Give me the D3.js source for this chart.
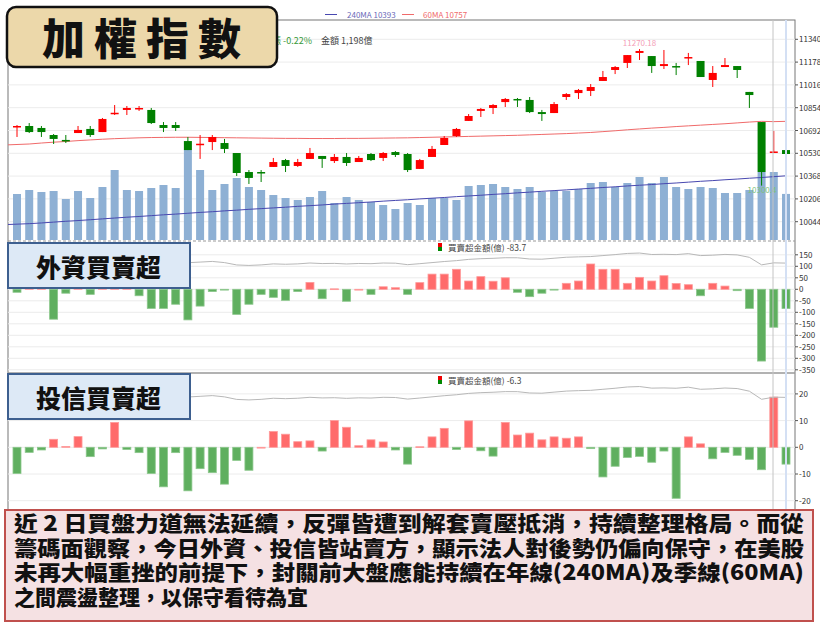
<!DOCTYPE html>
<html>
<head>
<meta charset="utf-8">
<script src="https://cdn.jsdelivr.net/npm/d3@7"></script>
<style>
  body { margin: 0; background: #fff; }
  svg { display: block; font-family: "Noto Sans CJK TC", "Noto Sans", sans-serif; }
</style>
</head>
<body>
<div id="chart"></div>
<script>
// OHLC of the index (one candle per trading day)
var opens  = [10717,10724,10710,10660,10625,10674,10703,10681,10816,10838,10845,10838,10731,10731,10617,10596,10610,10603,10532,10397,10397,10433,10482,10440,10490,10511,10475,10504,10468,10525,10497,10539,
              10525,10419,10504,10589,10653,10760,10831,10852,10894,10916,10909,10823,10816,10930,10958,10973,11044,11122,11172,11243,11221,11150,11150,11207,11186,11051,11143,11150,10966,10752,10539,10553];
var closes = [10724,10681,10681,10632,10622,10696,10660,10774,10818,10852,10852,10745,10710,10710,10553,10598,10646,10561,10390,10355,10394,10468,10440,10468,10532,10490,10504,10461,10497,10482,10532,10518,
              10411,10482,10561,10639,10703,10795,10845,10873,10916,10912,10823,10809,10880,10951,10980,11001,11072,11143,11228,11257,11150,11164,11143,11214,11072,11101,11157,11122,10944,10397,10543,10525];
var highs  = [10731,10745,10724,10667,10660,10724,10724,10781,10873,10866,10866,10852,10752,10752,10646,10660,10660,10632,10532,10411,10411,10497,10490,10490,10568,10511,10525,10532,10511,10532,10539,10546,
              10532,10490,10582,10653,10710,10809,10852,10880,10923,10923,10930,10838,10894,10958,10987,11022,11115,11150,11228,11270.18,11221,11264,11172,11243,11186,11150,11207,11150,10966,10752,10689,10603];
var lows   = [10646,10674,10646,10596,10603,10674,10646,10681,10802,10802,10831,10738,10681,10689,10553,10490,10553,10532,10369,10312,10326,10433,10397,10433,10490,10426,10461,10440,10468,10475,10475,10504,
              10397,10419,10504,10589,10646,10760,10788,10809,10859,10859,10816,10760,10816,10909,10916,10937,11044,11093,11136,11193,11101,11129,11086,11157,11072,11001,11143,11065,10852,10300.4,10532,10504];
// 成交金額 (億)
var volumes = [1196,1300,1248,1274,1066,1274,1092,1378,1820,1300,1274,1352,1430,1352,2340,1820,1300,1456,1612,1378,1300,1170,1092,1040,1118,1274,962,1118,1040,988,910,806,
               962,910,1092,1092,1040,1404,1430,1456,1378,1326,1378,1248,1274,1274,1326,1482,1508,1378,1482,1638,1482,1638,1378,1326,1378,1352,1222,1222,1300,1768,1768,1198];
var ma60  = [10590,10596,10603,10609,10614,10620,10625,10630,10634,10637,10640,10642,10643,10644,10644,10643,10642,10641,10640,10639,10638,10637,10636,10636,10635,10635,10635,10636,10636,10637,10638,10639,
             10640,10642,10644,10646,10648,10650,10652,10654,10656,10658,10661,10664,10667,10670,10674,10678,10684,10690,10697,10703,10709,10714,10720,10725,10730,10735,10740,10746,10752,10757,10755,10757];
var ma240 = [10024,10030,10035,10041,10047,10052,10058,10064,10070,10076,10081,10087,10093,10098,10104,10110,10115,10121,10126,10132,10137,10142,10147,10153,10158,10163,10169,10174,10179,10184,10190,10195,
             10200,10206,10211,10216,10222,10227,10232,10238,10243,10249,10254,10260,10265,10270,10276,10281,10287,10292,10298,10303,10308,10314,10319,10325,10331,10336,10342,10347,10353,10358,10364,10370];
// 外資買賣超 (億)
var foreign = [-13,10,20,-130,-17,15,-22,30,20,25,-28,-83,-83,-65,-133,-73,-10,-3,-109,-65,-22,-35,-48,-10,30,-41,2,-52,0,-22,11,7,
               -22,29,66,66,87,36,55,35,50,-13,-32,-17,-3,26,36,110,87,87,26,52,36,59,25,20,-28,26,14,-6,-83,-312,-165,-83.7];
// 投信買賣超 (億)
var trust = [-9.8,-1.9,-1,3,0.3,4,-3.5,-0.6,9.3,-0.8,-2,-9.8,-14.8,-2,-16.3,-8,-9.5,-13.8,-4.9,-8.6,0,5.9,4.9,2.1,2.4,-1.4,10,7.5,0.6,2.8,2,-1,
             -6.3,0.2,3.9,7.1,-0.8,9.9,-1.3,-3.3,9.3,4.6,5.3,2.8,3.9,3.4,3.9,-0.5,-11.1,-7.1,-3.8,-3.4,-5.6,-1.4,-19.1,3.9,1.3,-4.3,-1.9,-3,-4.5,-8.4,18.8,-6.3];

var priceTicks = [11340,11178,11016,10854,10692,10530,10368,10206,10044];
var foreignTicks = [150,100,50,0,-50,-100,-150,-200,-250,-300,-350];
var trustTicks = [20,10,0,-10,-20];
var noteLines = [
  "近 2 日買盤力道無法延續，反彈皆遭到解套賣壓抵消，持續整理格局。而從",
  "籌碼面觀察，今日外資、投信皆站賣方，顯示法人對後勢仍偏向保守，在美股",
  "未再大幅重挫的前提下，封關前大盤應能持續在年線(240MA)及季線(60MA)",
  "之間震盪整理，以保守看待為宜"
];

var width = 820, height = 635,
    left = 8, right = 795,
    idx = d3.range(closes.length);

var svg = d3.select("#chart").append("svg")
    .attr("width", width).attr("height", height);

var x = d3.scalePoint().domain(idx).range([17, 786]);
var yP = d3.scaleLinear().domain([10044, 11340]).range([221.7, 39.3]);
var yV = d3.scaleLinear().domain([0, 2600]).range([240, 140]);
var yF = d3.scaleLinear().domain([0, -350]).range([289.3, 369.8]);
var yT = d3.scaleLinear().domain([0, -20]).range([447.3, 500.7]);
// grey price trace drawn inside the lower panels
var yG1 = d3.scaleLinear().domain([10350, 11260]).range([265.5, 253]);
var yG2 = d3.scaleLinear().domain([10350, 11260]).range([400, 386.5]);

var bw = 8;

// frame
svg.append("rect").attr("x", left).attr("y", 20).attr("width", right - left).attr("height", 490)
    .attr("fill", "none").attr("stroke", "#777").attr("stroke-width", 1);

function grid(ticks, scale) {
  var g = svg.append("g");
  g.selectAll("line.g").data(ticks).enter().append("line")
      .attr("x1", left).attr("x2", right)
      .attr("y1", function(d) { return scale(d); }).attr("y2", function(d) { return scale(d); })
      .attr("stroke", "#ececec");
  g.selectAll("line.t").data(ticks).enter().append("line")
      .attr("x1", right).attr("x2", right + 3)
      .attr("y1", function(d) { return scale(d); }).attr("y2", function(d) { return scale(d); })
      .attr("stroke", "#555");
  g.selectAll("text").data(ticks).enter().append("text")
      .attr("x", right + 4).attr("y", function(d) { return scale(d) + 3; })
      .attr("font-size", 8).attr("fill", "#333")
      .text(function(d) { return d; });
}
grid(priceTicks, yP);
grid(foreignTicks, yF);
grid(trustTicks, yT);

// panel separators
svg.append("line").attr("x1", left).attr("x2", right).attr("y1", 241).attr("y2", 241)
    .attr("stroke", "#999").attr("stroke-dasharray", "3,2");
svg.append("line").attr("x1", left).attr("x2", right).attr("y1", 373).attr("y2", 373)
    .attr("stroke", "#999").attr("stroke-width", 1.5);

// volume bars
svg.append("g").selectAll("rect").data(volumes).enter().append("rect")
    .attr("x", function(d, i) { return x(i) - bw / 2; })
    .attr("y", function(d) { return yV(d); })
    .attr("width", bw).attr("height", function(d) { return yV(0) - yV(d); })
    .attr("fill", "#8eb0d4");

// moving averages
var line = function(arr, sc) {
  return d3.line().x(function(d, i) { return x(i); }).y(function(d) { return sc(d); })(arr);
};
var maLine = d3.line().x(function(d, i) { return i === 0 ? left : x(i); }).y(function(d) { return yP(d); });
svg.append("path").attr("d", maLine(ma240))
    .attr("fill", "none").attr("stroke", "#4848b0").attr("stroke-width", 1);
svg.append("path").attr("d", maLine(ma60))
    .attr("fill", "none").attr("stroke", "#f06a6a").attr("stroke-width", 1);

// candles
var candles = svg.append("g").selectAll("g").data(idx).enter().append("g");
var col = function(i) { return closes[i] >= opens[i] ? "#ff0000" : "#008000"; };
candles.append("line")
    .attr("x1", function(i) { return x(i); }).attr("x2", function(i) { return x(i); })
    .attr("y1", function(i) { return yP(highs[i]); }).attr("y2", function(i) { return yP(lows[i]); })
    .attr("stroke", function(i) { return col(i); });
candles.append("rect")
    .attr("x", function(i) { return x(i) - bw / 2; })
    .attr("y", function(i) { return yP(Math.max(opens[i], closes[i])); })
    .attr("width", bw)
    .attr("height", function(i) { return Math.max(1.5, Math.abs(yP(opens[i]) - yP(closes[i]))); })
    .attr("fill", function(i) { return col(i); });

// high / low marks
var hi = d3.maxIndex(highs), lo = d3.minIndex(lows);
svg.append("text").attr("x", x(hi)).attr("y", yP(highs[hi]) - 3).attr("text-anchor", "middle")
    .attr("font-size", 8).attr("fill", "#f4a0b8").text(highs[hi].toFixed(2));
svg.append("text").attr("x", x(lo) - 14).attr("y", yP(lows[lo]) + 7)
    .attr("font-size", 8).attr("fill", "#7cc07c").text(lows[lo]);

// institutional bars
function netBars(data, sc) {
  svg.append("g").selectAll("rect").data(data).enter().append("rect")
      .attr("x", function(d, i) { return x(i) - bw / 2; })
      .attr("y", function(d) { return sc(Math.max(0, d)); })
      .attr("width", bw)
      .attr("height", function(d) { return Math.max(0.8, Math.abs(sc(d) - sc(0))); })
      .attr("fill", function(d) { return d >= 0 ? "#ff6b6b" : "#5faf5f"; })
      .attr("stroke", function(d) { return d >= 0 ? "#ff9a9a" : "#8cc78c"; })
      .attr("stroke-width", 0.8);
}
netBars(foreign, yF);
netBars(trust, yT);

svg.append("path").attr("d", line(closes, yG1)).attr("fill", "none").attr("stroke", "#b8b8b8");
svg.append("path").attr("d", line(closes, yG2)).attr("fill", "none").attr("stroke", "#b8b8b8");

// cursor lines
svg.append("line").attr("x1", 773).attr("x2", 773).attr("y1", 20).attr("y2", 510).attr("stroke", "#c4c4c4");
svg.append("line").attr("x1", x(63)).attr("x2", x(63)).attr("y1", 20).attr("y2", 510)
    .attr("stroke", "#d4e0f4").attr("stroke-width", 2);

// panel headers
function panelHeader(y0, val) {
  svg.append("rect").attr("x", 438).attr("y", y0 - 8).attr("width", 4).attr("height", 4).attr("fill", "#e00");
  svg.append("rect").attr("x", 438).attr("y", y0 - 4).attr("width", 4).attr("height", 4).attr("fill", "#080");
  svg.append("text").attr("x", 448).attr("y", y0).attr("font-size", 8.5).attr("fill", "#444")
      .text("買賣超金額(億) " + val);
}
panelHeader(251, foreign[foreign.length - 1]);
panelHeader(384, trust[trust.length - 1]);

// legend
svg.append("line").attr("x1", 325).attr("x2", 337).attr("y1", 14.5).attr("y2", 14.5).attr("stroke", "#4848b0");
svg.append("text").attr("x", 347).attr("y", 17.5).attr("font-size", 8).attr("fill", "#6a6ab8")
    .text("240MA " + Math.round(ma240[ma240.length - 1] + 23));
svg.append("line").attr("x1", 402).attr("x2", 414).attr("y1", 14.5).attr("y2", 14.5).attr("stroke", "#f06a6a");
svg.append("text").attr("x", 423).attr("y", 17.5).attr("font-size", 8).attr("fill", "#f06a6a")
    .text("60MA " + ma60[ma60.length - 1]);
svg.append("text").attr("x", 272).attr("y", 44).attr("font-size", 9).attr("fill", "#3a9a3a").text("漲 -0.22%");
svg.append("text").attr("x", 321).attr("y", 44).attr("font-size", 9).attr("fill", "#444").text("金額 1,198億");

// title box
svg.append("rect").attr("x", 7).attr("y", 7).attr("width", 270).attr("height", 60).attr("rx", 9)
    .attr("fill", "#ecd8aa").attr("stroke", "#111").attr("stroke-width", 2.5);
svg.append("text").attr("x", 42).attr("y", 55).attr("font-size", 43).attr("font-weight", 900)
    .attr("letter-spacing", 9).attr("fill", "#111").text("加權指數");

function tagBox(y0, label) {
  svg.append("rect").attr("x", 8).attr("y", y0).attr("width", 182).attr("height", 45)
      .attr("fill", "#dde9f6").attr("stroke", "#3d5f8f").attr("stroke-width", 2);
  svg.append("text").attr("x", 36).attr("y", y0 + 34).attr("font-size", 25).attr("font-weight", 900)
      .attr("fill", "#111").text(label);
}
tagBox(243, "外資買賣超");
tagBox(374, "投信買賣超");

// note box
svg.append("rect").attr("x", 5).attr("y", 510).attr("width", 808).attr("height", 111)
    .attr("fill", "#f5e1e3").attr("stroke", "#c0504d").attr("stroke-width", 2);
svg.append("g").selectAll("text").data(noteLines).enter().append("text")
    .attr("x", 14).attr("y", function(d, i) { return 531 + i * 24.5; })
    .attr("font-size", 21).attr("font-weight", 900).attr("fill", "#111")
    .attr("textLength", function(d, i) { return i < 3 ? 790 : null; })
    .attr("lengthAdjust", "spacingAndGlyphs")
    .text(function(d) { return d; });
</script>
</body>
</html>
